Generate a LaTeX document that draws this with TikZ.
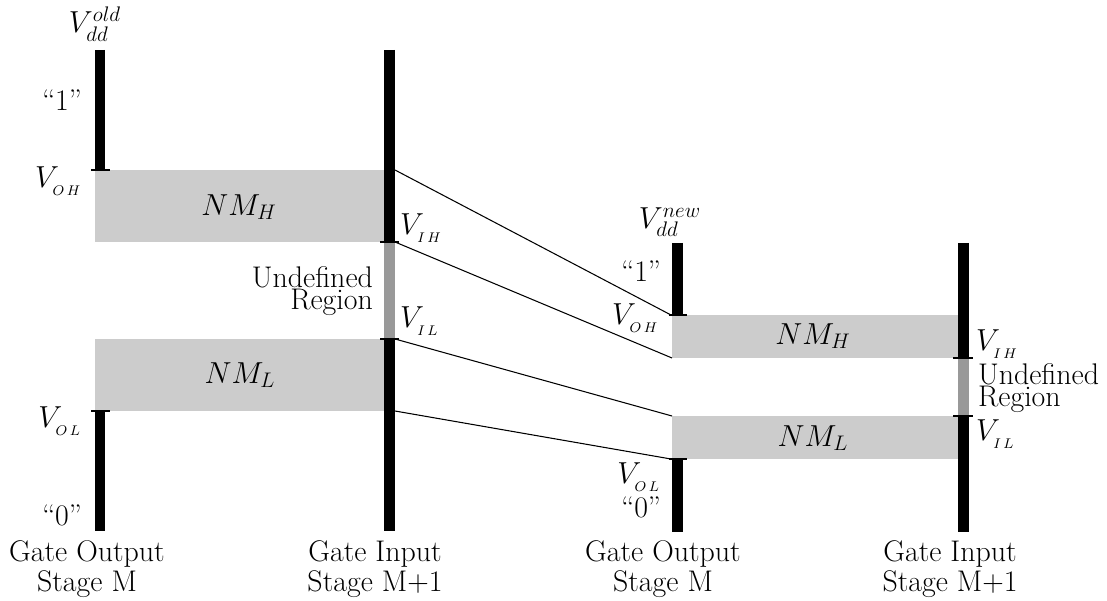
\documentclass[tikz,border=0pt]{standalone}
\usepackage{amsmath,amssymb}
\usepackage{xcolor}
\usepackage{tikz}
\usetikzlibrary{positioning}
\definecolor{marginGray}{RGB}{204,204,204}
\definecolor{undefGray}{RGB}{153,153,153}
\newcommand{\lvl}[2]{V_{_{#1\,#2}}}

\begin{document}
\begin{tikzpicture}[
  x=0.02cm, y=-0.02cm,
  font=\fontsize{17}{17.5}\selectfont,
  bar/.style={line width=0.22cm},
  tick/.style={line width=1.3pt},
  margin/.style={fill=marginGray},
  undef/.style={line width=0.22cm, draw=undefGray},
  wire/.style={line width=0.6pt},
  lbl/.style={inner sep=1pt},
  caption/.style={align=center, font=\fontsize{17}{17.5}\selectfont},
  region/.style={font=\fontsize{17}{12.5}\selectfont, inner sep=1pt}
]
  \useasboundingbox (0,0) rectangle (1107,601);

  % old supply: noise margins
  \fill[margin] (95,170) rectangle (384,242);
  \fill[margin] (95,339) rectangle (384,411);
  % new supply: noise margins
  \fill[margin] (672,315) rectangle (958,358);
  \fill[margin] (672,416) rectangle (958,459);

  % left output / input bars
  \draw[bar] (100,50) -- (100,170);
  \draw[bar] (100,411) -- (100,531);
  \draw[bar] (389.5,50) -- (389.5,242);
  \draw[undef] (389.5,242) -- (389.5,339);
  \draw[bar] (389.5,339) -- (389.5,531);
  % right output / input bars
  \draw[bar] (677,243) -- (677,315);
  \draw[bar] (677,459) -- (677,532);
  \draw[bar] (963,243) -- (963,358);
  \draw[undef] (963,358) -- (963,416);
  \draw[bar] (963,416) -- (963,532);

  % ticks
  \draw[tick] (91,170) -- (110,170);
  \draw[tick] (91,411) -- (110,411);
  \draw[tick] (380,242) -- (399,242);
  \draw[tick] (380,339) -- (399,339);
  \draw[tick] (669,315) -- (687,315);
  \draw[tick] (669,459) -- (687,459);
  \draw[tick] (953,358) -- (973,358);
  \draw[tick] (953,416) -- (973,416);

  % level points
  \coordinate (ohA) at (395,170);
  \coordinate (ihA) at (395,242);
  \coordinate (ilA) at (395,339);
  \coordinate (olA) at (395,411);
  \coordinate (ohB) at (671,315);
  \coordinate (ihB) at (672,358);
  \coordinate (ilB) at (672,416);
  \coordinate (olB) at (671,459);

  \draw[wire] (ohA) -- (ohB);
  \draw[wire] (ihA) -- (ihB);
  \draw[wire] (ilA) -- (ilB);
  \draw[wire] (olA) -- (olB);

  % labels, old supply
  \node[lbl] (vddOld) at (95,24) {$V_{dd}^{old}$};
  \node[lbl, anchor=east] (oneA) at (84,100) {``1''};
  \node[lbl, anchor=east] (vohA) at (84,181) {$\lvl{O}{H}$};
  \node[lbl] (nmhA) at (239,207) {$NM_H$};
  \node[lbl, anchor=west] (vihA) at (398,228) {$\lvl{I}{H}$};
  \node[region, align=right, anchor=east] (undefA) at (375,291) {Undefined\\Region};
  \node[lbl, anchor=west] (vilA) at (398,321) {$\lvl{I}{L}$};
  \node[lbl] (nmlA) at (240,375) {$NM_L$};
  \node[lbl, anchor=east] (volA) at (84,421) {$\lvl{O}{L}$};
  \node[lbl, anchor=east] (zeroA) at (84,515) {``0''};
  \node[caption] (outA) at (87,569) {Gate Output\\Stage M};
  \node[caption] (inA) at (375,569) {Gate Input\\Stage M+1};

  % labels, new supply
  \node[lbl] (vddNew) at (670,222) {$V_{dd}^{new}$};
  \node[lbl, anchor=east] (oneB) at (663,271) {``1''};
  \node[lbl, anchor=east] (vohB) at (661,318) {$\lvl{O}{H}$};
  \node[lbl] (nmhB) at (813,336) {$NM_H$};
  \node[lbl, anchor=west] (vihB) at (974,344) {$\lvl{I}{H}$};
  \node[region, align=left, anchor=west] (undefB) at (976,388) {Undefined\\Region};
  \node[lbl, anchor=west] (vilB) at (974,434) {$\lvl{I}{L}$};
  \node[lbl] (nmlB) at (813,438) {$NM_L$};
  \node[lbl, anchor=east] (volB) at (663,477) {$\lvl{O}{L}$};
  \node[lbl, anchor=east] (zeroB) at (663,507) {``0''};
  \node[caption] (outB) at (663,569) {Gate Output\\Stage M};
  \node[caption] (inB) at (950,569) {Gate Input\\Stage M+1};
\end{tikzpicture}
\end{document}
